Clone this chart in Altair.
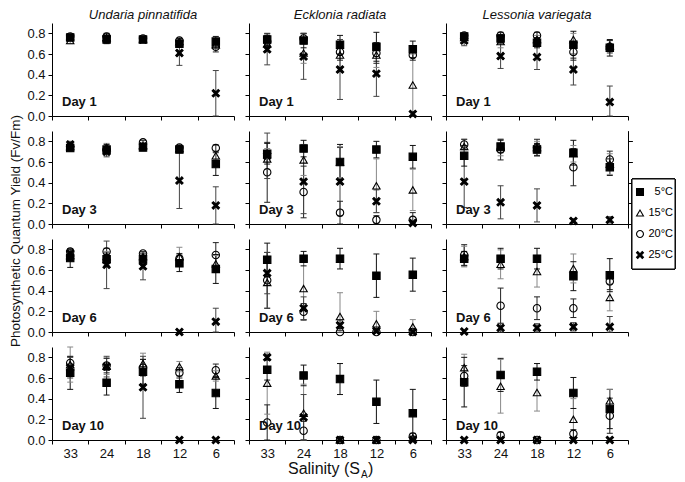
import altair as alt
import pandas as pd

SALINITY = ["33", "24", "18", "12", "6"]
TEMPS = ["5°C", "15°C", "20°C", "25°C"]
SPECIES = ["Undaria pinnatifida", "Ecklonia radiata", "Lessonia variegata"]
DAYS = ["Day 1", "Day 3", "Day 6", "Day 10"]

# Means: one row per temperature (5, 15, 20, 25 °C), columns = salinity 33, 24, 18, 12, 6
UP_D1_MEAN = [[0.76, 0.74, 0.74, 0.70, 0.72], [0.73, 0.76, 0.74, 0.72, 0.69], [0.77, 0.77, 0.75, 0.73, 0.67], [0.76, 0.75, 0.74, 0.61, 0.22]]
UP_D1_ERR = [[0.03, 0.04, 0.02, 0.03, 0.05], [0.03, 0.03, 0.02, 0.02, 0.04], [0.02, 0.03, 0.02, 0.02, 0.05], [0.03, 0.03, 0.02, 0.12, 0.22]]
ER_D1_MEAN = [[0.74, 0.73, 0.69, 0.67, 0.645], [0.70, 0.61, 0.59, 0.59, 0.30], [0.72, 0.75, 0.62, 0.61, 0.59], [0.645, 0.575, 0.45, 0.41, 0.02]]
ER_D1_ERR = [[0.06, 0.07, 0.09, 0.14, 0.08], [0.08, 0.10, 0.12, 0.12, 0.30], [0.06, 0.05, 0.08, 0.10, 0.05], [0.15, 0.22, 0.29, 0.22, 0.02]]
LV_D1_MEAN = [[0.77, 0.75, 0.71, 0.69, 0.66], [0.76, 0.72, 0.74, 0.74, 0.68], [0.78, 0.78, 0.78, 0.62, 0.67], [0.73, 0.58, 0.57, 0.45, 0.135]]
LV_D1_ERR = [[0.03, 0.04, 0.05, 0.13, 0.08], [0.03, 0.06, 0.04, 0.06, 0.05], [0.02, 0.03, 0.03, 0.08, 0.06], [0.05, 0.12, 0.12, 0.15, 0.155]]

UP_D3_MEAN = [[0.735, 0.72, 0.74, 0.72, 0.58], [0.75, 0.74, 0.76, 0.73, 0.66], [0.75, 0.72, 0.79, 0.74, 0.735], [0.77, 0.70, 0.75, 0.42, 0.18]]
UP_D3_ERR = [[0.03, 0.05, 0.03, 0.02, 0.11], [0.03, 0.04, 0.03, 0.02, 0.04], [0.03, 0.03, 0.02, 0.02, 0.03], [0.03, 0.05, 0.03, 0.27, 0.18]]
ER_D3_MEAN = [[0.68, 0.73, 0.60, 0.72, 0.65], [0.63, 0.62, 0.60, 0.37, 0.33], [0.50, 0.31, 0.11, 0.04, 0.04], [0.66, 0.41, 0.41, 0.22, 0.01]]
ER_D3_ERR = [[0.10, 0.08, 0.17, 0.08, 0.11], [0.10, 0.15, 0.15, 0.26, 0.20], [0.29, 0.25, 0.11, 0.04, 0.07], [0.22, 0.31, 0.33, 0.11, 0.01]]
LV_D3_MEAN = [[0.66, 0.75, 0.72, 0.69, 0.55], [0.75, 0.74, 0.74, 0.68, 0.58], [0.77, 0.72, 0.74, 0.55, 0.625], [0.41, 0.21, 0.18, 0.03, 0.04]]
LV_D3_ERR = [[0.10, 0.06, 0.06, 0.12, 0.08], [0.07, 0.08, 0.06, 0.08, 0.10], [0.05, 0.10, 0.08, 0.18, 0.08], [0.25, 0.16, 0.16, 0.02, 0.03]]

UP_D6_MEAN = [[0.715, 0.705, 0.705, 0.665, 0.61], [0.74, 0.73, 0.73, 0.73, 0.66], [0.78, 0.78, 0.76, 0.71, 0.745], [0.76, 0.65, 0.635, 0.0, 0.10]]
UP_D6_ERR = [[0.09, 0.06, 0.04, 0.08, 0.14], [0.03, 0.05, 0.03, 0.09, 0.08], [0.02, 0.03, 0.02, 0.05, 0.12], [0.02, 0.23, 0.13, 0.0, 0.13]]
ER_D6_MEAN = [[0.70, 0.71, 0.71, 0.545, 0.555], [0.48, 0.42, 0.15, 0.08, 0.05], [0.50, 0.195, 0.0, 0.0, 0.0], [0.57, 0.23, 0.065, 0.01, 0.0]]
ER_D6_ERR = [[0.16, 0.07, 0.10, 0.21, 0.16], [0.25, 0.30, 0.23, 0.12, 0.07], [0.27, 0.08, 0.0, 0.0, 0.0], [0.20, 0.11, 0.05, 0.01, 0.0]]
LV_D6_MEAN = [[0.71, 0.71, 0.71, 0.54, 0.55], [0.73, 0.655, 0.585, 0.615, 0.335], [0.745, 0.255, 0.23, 0.23, 0.49], [0.005, 0.04, 0.04, 0.05, 0.05]]
LV_D6_ERR = [[0.07, 0.10, 0.10, 0.14, 0.16], [0.10, 0.14, 0.15, 0.14, 0.13], [0.10, 0.17, 0.11, 0.09, 0.08], [0.0, 0.04, 0.04, 0.04, 0.10]]

UP_D10_MEAN = [[0.65, 0.555, 0.66, 0.54, 0.455], [0.73, 0.715, 0.74, 0.71, 0.62], [0.745, 0.72, 0.70, 0.65, 0.675], [0.70, 0.71, 0.51, 0.0, 0.0]]
UP_D10_ERR = [[0.16, 0.12, 0.12, 0.08, 0.15], [0.17, 0.08, 0.10, 0.05, 0.05], [0.06, 0.07, 0.08, 0.05, 0.06], [0.10, 0.10, 0.30, 0.0, 0.0]]
ER_D10_MEAN = [[0.68, 0.625, 0.59, 0.37, 0.26], [0.55, 0.26, 0.0, 0.0, 0.02], [0.17, 0.09, 0.0, 0.0, 0.035], [0.80, 0.22, 0.0, 0.0, 0.0]]
ER_D10_ERR = [[0.10, 0.10, 0.15, 0.21, 0.23], [0.30, 0.28, 0.0, 0.0, 0.02], [0.17, 0.09, 0.0, 0.0, 0.03], [0.03, 0.22, 0.0, 0.0, 0.0]]
LV_D10_MEAN = [[0.56, 0.63, 0.66, 0.455, 0.30], [0.70, 0.52, 0.46, 0.20, 0.38], [0.62, 0.045, 0.0, 0.06, 0.235], [0.0, 0.0, 0.0, 0.0, 0.0]]
LV_D10_ERR = [[0.24, 0.16, 0.08, 0.15, 0.19], [0.13, 0.26, 0.18, 0.20, 0.11], [0.10, 0.03, 0.0, 0.04, 0.17], [0.0, 0.0, 0.0, 0.0, 0.0]]

PANELS = {
    ("Undaria pinnatifida", "Day 1"): (UP_D1_MEAN, UP_D1_ERR),
    ("Ecklonia radiata", "Day 1"): (ER_D1_MEAN, ER_D1_ERR),
    ("Lessonia variegata", "Day 1"): (LV_D1_MEAN, LV_D1_ERR),
    ("Undaria pinnatifida", "Day 3"): (UP_D3_MEAN, UP_D3_ERR),
    ("Ecklonia radiata", "Day 3"): (ER_D3_MEAN, ER_D3_ERR),
    ("Lessonia variegata", "Day 3"): (LV_D3_MEAN, LV_D3_ERR),
    ("Undaria pinnatifida", "Day 6"): (UP_D6_MEAN, UP_D6_ERR),
    ("Ecklonia radiata", "Day 6"): (ER_D6_MEAN, ER_D6_ERR),
    ("Lessonia variegata", "Day 6"): (LV_D6_MEAN, LV_D6_ERR),
    ("Undaria pinnatifida", "Day 10"): (UP_D10_MEAN, UP_D10_ERR),
    ("Ecklonia radiata", "Day 10"): (ER_D10_MEAN, ER_D10_ERR),
    ("Lessonia variegata", "Day 10"): (LV_D10_MEAN, LV_D10_ERR),
}

records = []
for (sp, day), (means, errs) in PANELS.items():
    for ti, temp in enumerate(TEMPS):
        for si, sal in enumerate(SALINITY):
            m = means[ti][si]
            e = errs[ti][si]
            records.append({"species": sp, "day": day, "temp": temp, "bar": temp, "sal": sal,
                            "mean": m, "err": e,
                            "lo": max(0.0, m - e), "hi": min(0.9, m + e)})
df = pd.DataFrame(records)
legend_df = pd.DataFrame({"temp": TEMPS})

FONT = "Liberation Sans"
X_PATH = "M-1,-0.65L-0.65,-1L0,-0.35L0.65,-1L1,-0.65L0.35,0L1,0.65L0.65,1L0,0.35L-0.65,1L-1,0.65L-0.35,0Z"
SHAPE_SCALE = alt.Scale(domain=TEMPS, range=["square", "triangle-up", "circle", X_PATH])
FILL_SCALE = alt.Scale(domain=TEMPS, range=["black", "transparent", "transparent", "black"])
BAR_SCALE = alt.Scale(domain=TEMPS, range=["#111111", "#888888", "#222222", "#444444"])
YSCALE = alt.Scale(domain=[0, 0.9], nice=False, zero=True)
XSCALE = alt.Scale(type="band", domain=SALINITY, paddingInner=0, paddingOuter=0)

W, H = 182, 93


def legend_layers():
    box = alt.Chart(legend_df).mark_rect(fill="white", stroke="black", strokeWidth=1).encode(
        x=alt.value(W + 4), x2=alt.value(W + 47), y=alt.value(48), y2=alt.value(138))
    ly = alt.Y("temp:N", scale=alt.Scale(type="point", domain=TEMPS, range=[61, 124], padding=0),
               axis=None)
    sym = alt.Chart(legend_df).mark_point(filled=True, size=48, stroke="black", strokeWidth=1.1,
                                          opacity=1).encode(
        x=alt.value(W + 12), y=ly,
        shape=alt.Shape("temp:N", scale=SHAPE_SCALE, legend=None),
        fill=alt.Fill("temp:N", scale=FILL_SCALE, legend=None))
    lab = alt.Chart(legend_df).mark_text(align="right", baseline="middle", fontSize=11,
                                         font=FONT, color="black").encode(
        x=alt.value(W + 45), y=ly, text="temp:N")
    return [box, sym, lab]


def panel(r, c):
    sp = SPECIES[c]
    day = DAYS[r]
    d = df[(df["species"] == sp) & (df["day"] == day)]
    xaxis = alt.Axis(title=None, labels=(r == 3), tickBand="extent", tickSize=4,
                     labelAngle=0, labelPadding=3, labelFontSize=13, labelFont=FONT,
                     labelColor="#111111", domainColor="black", tickColor="black")
    yaxis = alt.Axis(title=None, values=[0, 0.2, 0.4, 0.6, 0.8], format=".1f",
                     labels=(c == 0), tickSize=4, labelPadding=3, grid=False,
                     labelFontSize=13, labelFont=FONT, labelColor="#111111",
                     domainColor="black", tickColor="black")
    xenc = alt.X("sal:N", sort=SALINITY, scale=XSCALE, axis=xaxis)
    base = alt.Chart(d)
    bars = base.transform_filter("datum.err > 0")
    stroke = alt.Stroke("bar:N", scale=BAR_SCALE, legend=None)
    rules = bars.mark_rule(strokeWidth=1).encode(
        x=xenc, y=alt.Y("lo:Q", scale=YSCALE, axis=yaxis), y2="hi:Q", stroke=stroke)
    cap_lo = bars.mark_point(shape="stroke", size=36, strokeWidth=1, opacity=1).encode(
        x=xenc, y=alt.Y("lo:Q", scale=YSCALE, axis=yaxis), stroke=stroke)
    cap_hi = bars.mark_point(shape="stroke", size=36, strokeWidth=1, opacity=1).encode(
        x=xenc, y=alt.Y("hi:Q", scale=YSCALE, axis=yaxis), stroke=stroke)
    pts = base.mark_point(filled=True, size=55, stroke="black", strokeWidth=1.1, opacity=1).encode(
        x=xenc, y=alt.Y("mean:Q", scale=YSCALE, axis=yaxis),
        shape=alt.Shape("temp:N", scale=SHAPE_SCALE, legend=None),
        fill=alt.Fill("temp:N", scale=FILL_SCALE, legend=None))
    daytxt = alt.Chart(pd.DataFrame({"t": [day]})).mark_text(
        align="left", baseline="middle", fontWeight="bold", fontSize=13, font=FONT, color="#111111"
    ).encode(text="t:N", x=alt.value(10), y=alt.value(H - 14))
    layers = [rules, cap_lo, cap_hi, pts, daytxt]
    if r == 1 and c == 0:
        ytitle = alt.Chart(pd.DataFrame({"t": ["Photosynthetic Quantum Yield (Fv/Fm)"]})).mark_text(
            angle=270, align="center", baseline="middle", fontSize=13.5, font=FONT, color="#111111"
        ).encode(text="t:N", x=alt.value(-36), y=alt.value(H + 7))
        layers.append(ytitle)
    if r == 3 and c == 1:
        t1 = alt.Chart(pd.DataFrame({"t": ["Salinity (S"]})).mark_text(
            align="right", baseline="alphabetic", fontSize=16, font=FONT, color="#111111"
        ).encode(text="t:N", x=alt.value(111), y=alt.value(127))
        t2 = alt.Chart(pd.DataFrame({"t": ["A"]})).mark_text(
            align="left", baseline="alphabetic", fontSize=10, font=FONT, color="#111111"
        ).encode(text="t:N", x=alt.value(112), y=alt.value(131))
        t3 = alt.Chart(pd.DataFrame({"t": [")"]})).mark_text(
            align="left", baseline="alphabetic", fontSize=16, font=FONT, color="#111111"
        ).encode(text="t:N", x=alt.value(119), y=alt.value(127))
        layers += [t1, t2, t3]
    if r == 1 and c == 2:
        layers += legend_layers()
        ch = alt.layer(*layers).resolve_scale(y="independent").properties(width=W, height=H)
    else:
        ch = alt.layer(*layers).properties(width=W, height=H)
    if r == 0:
        ch = ch.properties(title=alt.TitleParams(sp, fontStyle="italic", fontSize=13, font=FONT,
                                                 fontWeight="normal", offset=1, color="#111111"))
    return ch


panels = [panel(r, c) for r in range(4) for c in range(3)]

chart = alt.concat(*panels, columns=3, spacing=15, bounds="flush").resolve_scale(
    x="independent", y="independent", shape="shared", fill="shared", stroke="shared"
).properties(
    padding={"left": 0, "top": 1, "right": 0, "bottom": 0}
).configure(font=FONT).configure_view(stroke=None)

chart.save("out.html", embed_options={"renderer": "svg", "actions": False})
